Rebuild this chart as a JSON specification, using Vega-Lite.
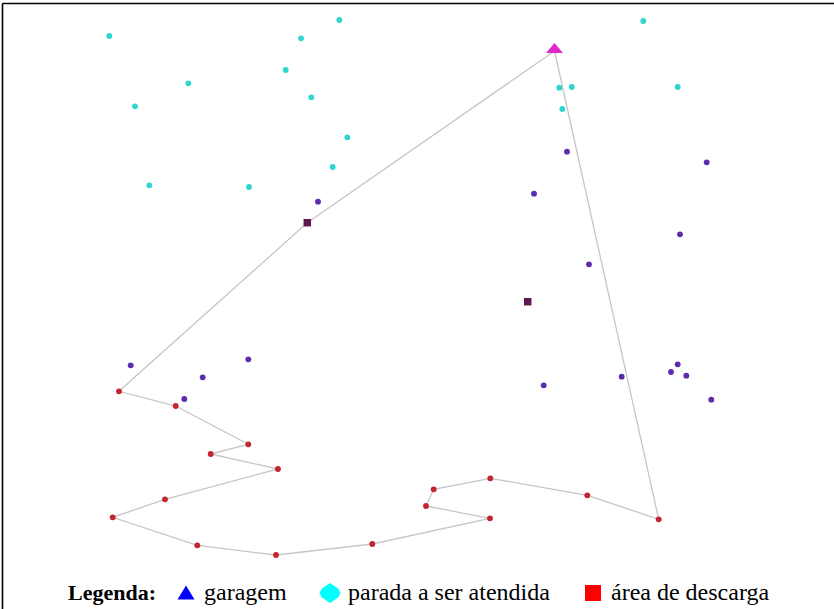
{
  "$schema": "https://vega.github.io/schema/vega-lite/v6.json",
  "width": 832,
  "height": 606,
  "autosize": {"type": "none"},
  "padding": {"left": 2, "top": 3, "right": 0, "bottom": 0},
  "background": "white",
  "config": {"view": {"stroke": null}, "axis": {"grid": false}},
  "datasets": {
    "rota": [
      {"ordem": 1, "x": 554.5, "y": 51},
      {"ordem": 2, "x": 307.3, "y": 222.7},
      {"ordem": 3, "x": 119, "y": 391.3},
      {"ordem": 4, "x": 175.7, "y": 406},
      {"ordem": 5, "x": 248.3, "y": 444.3},
      {"ordem": 6, "x": 210.7, "y": 454},
      {"ordem": 7, "x": 278, "y": 469},
      {"ordem": 8, "x": 165, "y": 499.3},
      {"ordem": 9, "x": 112.7, "y": 517.3},
      {"ordem": 10, "x": 197.3, "y": 545.3},
      {"ordem": 11, "x": 276, "y": 555},
      {"ordem": 12, "x": 372.3, "y": 544},
      {"ordem": 13, "x": 490, "y": 518.3},
      {"ordem": 14, "x": 426, "y": 506},
      {"ordem": 15, "x": 433.7, "y": 489.3},
      {"ordem": 16, "x": 490.3, "y": 478.3},
      {"ordem": 17, "x": 587.3, "y": 495.3},
      {"ordem": 18, "x": 658.7, "y": 519.3},
      {"ordem": 19, "x": 554.5, "y": 51}
    ],
    "pontos": [
      {"tipo": "parada", "x": 109.3, "y": 36},
      {"tipo": "parada", "x": 339.3, "y": 20},
      {"tipo": "parada", "x": 301, "y": 38.3},
      {"tipo": "parada", "x": 285.7, "y": 70},
      {"tipo": "parada", "x": 188.3, "y": 83.3},
      {"tipo": "parada", "x": 311.3, "y": 97.3},
      {"tipo": "parada", "x": 135, "y": 106.3},
      {"tipo": "parada", "x": 347.3, "y": 137.3},
      {"tipo": "parada", "x": 332.7, "y": 167},
      {"tipo": "parada", "x": 149.3, "y": 185.3},
      {"tipo": "parada", "x": 249, "y": 187},
      {"tipo": "parada", "x": 643.3, "y": 21},
      {"tipo": "parada", "x": 559.3, "y": 87.7},
      {"tipo": "parada", "x": 571.7, "y": 87},
      {"tipo": "parada", "x": 677.7, "y": 87},
      {"tipo": "parada", "x": 562.3, "y": 109},
      {"tipo": "cliente", "x": 318, "y": 201.7},
      {"tipo": "cliente", "x": 567, "y": 151.7},
      {"tipo": "cliente", "x": 706.7, "y": 162.3},
      {"tipo": "cliente", "x": 534, "y": 193.7},
      {"tipo": "cliente", "x": 680, "y": 234.3},
      {"tipo": "cliente", "x": 589, "y": 264.3},
      {"tipo": "cliente", "x": 130.7, "y": 365.3},
      {"tipo": "cliente", "x": 248.3, "y": 359.3},
      {"tipo": "cliente", "x": 202.7, "y": 377.3},
      {"tipo": "cliente", "x": 184.3, "y": 399},
      {"tipo": "cliente", "x": 677.7, "y": 364.3},
      {"tipo": "cliente", "x": 671, "y": 372},
      {"tipo": "cliente", "x": 686.3, "y": 375.7},
      {"tipo": "cliente", "x": 621.7, "y": 376.7},
      {"tipo": "cliente", "x": 543.7, "y": 385.3},
      {"tipo": "cliente", "x": 711.3, "y": 399.7},
      {"tipo": "descarga", "x": 119, "y": 391.3},
      {"tipo": "descarga", "x": 175.7, "y": 406},
      {"tipo": "descarga", "x": 248.3, "y": 444.3},
      {"tipo": "descarga", "x": 210.7, "y": 454},
      {"tipo": "descarga", "x": 278, "y": 469},
      {"tipo": "descarga", "x": 165, "y": 499.3},
      {"tipo": "descarga", "x": 112.7, "y": 517.3},
      {"tipo": "descarga", "x": 197.3, "y": 545.3},
      {"tipo": "descarga", "x": 276, "y": 555},
      {"tipo": "descarga", "x": 372.3, "y": 544},
      {"tipo": "descarga", "x": 490, "y": 518.3},
      {"tipo": "descarga", "x": 426, "y": 506},
      {"tipo": "descarga", "x": 433.7, "y": 489.3},
      {"tipo": "descarga", "x": 490.3, "y": 478.3},
      {"tipo": "descarga", "x": 587.3, "y": 495.3},
      {"tipo": "descarga", "x": 658.7, "y": 519.3}
    ],
    "depositos": [
      {"x": 307.3, "y": 222.7},
      {"x": 527.7, "y": 301.7}
    ],
    "garagem": [
      {"x": 554.5, "y": 48}
    ],
    "legenda": [
      {"item": "garagem"},
      {"item": "parada a ser atendida"},
      {"item": "área de descarga"}
    ]
  },
  "layer": [
    {
      "data": {"name": "rota"},
      "mark": {"type": "line", "color": "#c6c6c6", "strokeWidth": 1.3},
      "encoding": {
        "x": {"field": "x", "type": "quantitative", "scale": {"domain": [2, 834], "nice": false, "zero": false},
              "axis": {"orient": "top", "labels": false, "ticks": false, "title": null, "grid": false, "domainColor": "black", "domainWidth": 1.6}},
        "y": {"field": "y", "type": "quantitative", "scale": {"domain": [3, 609], "reverse": true, "nice": false, "zero": false},
              "axis": {"orient": "left", "labels": false, "ticks": false, "title": null, "grid": false, "domainColor": "black", "domainWidth": 1.6}},
        "order": {"field": "ordem", "type": "quantitative"}
      }
    },
    {
      "data": {"name": "pontos"},
      "mark": {"type": "point", "shape": "circle", "filled": true, "opacity": 1, "size": 34},
      "encoding": {
        "x": {"field": "x", "type": "quantitative"},
        "y": {"field": "y", "type": "quantitative"},
        "color": {"field": "tipo", "type": "nominal",
                  "scale": {"domain": ["parada", "cliente", "descarga"], "range": ["#2fd6d0", "#5a2cae", "#c42430"]},
                  "legend": null}
      }
    },
    {
      "data": {"name": "depositos"},
      "mark": {"type": "point", "shape": "square", "filled": true, "opacity": 1, "size": 56, "color": "#5c1850"},
      "encoding": {
        "x": {"field": "x", "type": "quantitative"},
        "y": {"field": "y", "type": "quantitative"}
      }
    },
    {
      "data": {"name": "garagem"},
      "mark": {"type": "point", "shape": "M-1,0.6L0,-0.6L1,0.6Z", "filled": true, "opacity": 1, "size": 289, "color": "#e029c9"},
      "encoding": {
        "x": {"field": "x", "type": "quantitative"},
        "y": {"field": "y", "type": "quantitative"}
      }
    },
    {
      "data": {"name": "legenda"},
      "mark": {"type": "point", "filled": true, "opacity": 0, "size": 441},
      "encoding": {
        "color": {"field": "item", "type": "nominal",
                  "scale": {"domain": ["garagem", "parada a ser atendida", "área de descarga"], "range": ["#0000ff", "#00ffff", "#ff0000"]},
                  "legend": {
                    "title": "Legenda:", "orient": "none", "direction": "horizontal", "columns": 3,
                    "legendX": 66, "legendY": 578, "padding": 0, "offset": 0,
                    "titleOrient": "left", "titleFont": "Liberation Serif", "titleFontSize": 22, "titleFontWeight": "bold",
                    "titleColor": "black", "titlePadding": 18,
                    "labelFont": "Liberation Serif", "labelFontSize": 24, "labelColor": "black", "labelOffset": 6, "labelLimit": 0,
                    "symbolSize": 441, "symbolStrokeWidth": 0, "symbolOpacity": 1, "columnPadding": 31
                  }},
        "shape": {"field": "item", "type": "nominal",
                  "scale": {"domain": ["garagem", "parada a ser atendida", "área de descarga"],
                            "range": ["M0,-0.72L0.81,0.62L-0.81,0.62Z", "M0,-0.95L0.8,-0.4L1,0L0.8,0.4L0,0.95L-0.8,0.4L-1,0L-0.8,-0.4Z", "M-0.76,-0.76H0.76V0.76H-0.76Z"]},
                  "legend": {
                    "title": "Legenda:", "orient": "none", "direction": "horizontal", "columns": 3,
                    "legendX": 66, "legendY": 578, "padding": 0, "offset": 0,
                    "titleOrient": "left", "titleFont": "Liberation Serif", "titleFontSize": 22, "titleFontWeight": "bold",
                    "titleColor": "black", "titlePadding": 18,
                    "labelFont": "Liberation Serif", "labelFontSize": 24, "labelColor": "black", "labelOffset": 6, "labelLimit": 0,
                    "symbolSize": 441, "symbolStrokeWidth": 0, "symbolOpacity": 1, "columnPadding": 31
                  }}
      }
    }
  ],
  "resolve": {"scale": {"color": "independent", "shape": "independent"}}
}
